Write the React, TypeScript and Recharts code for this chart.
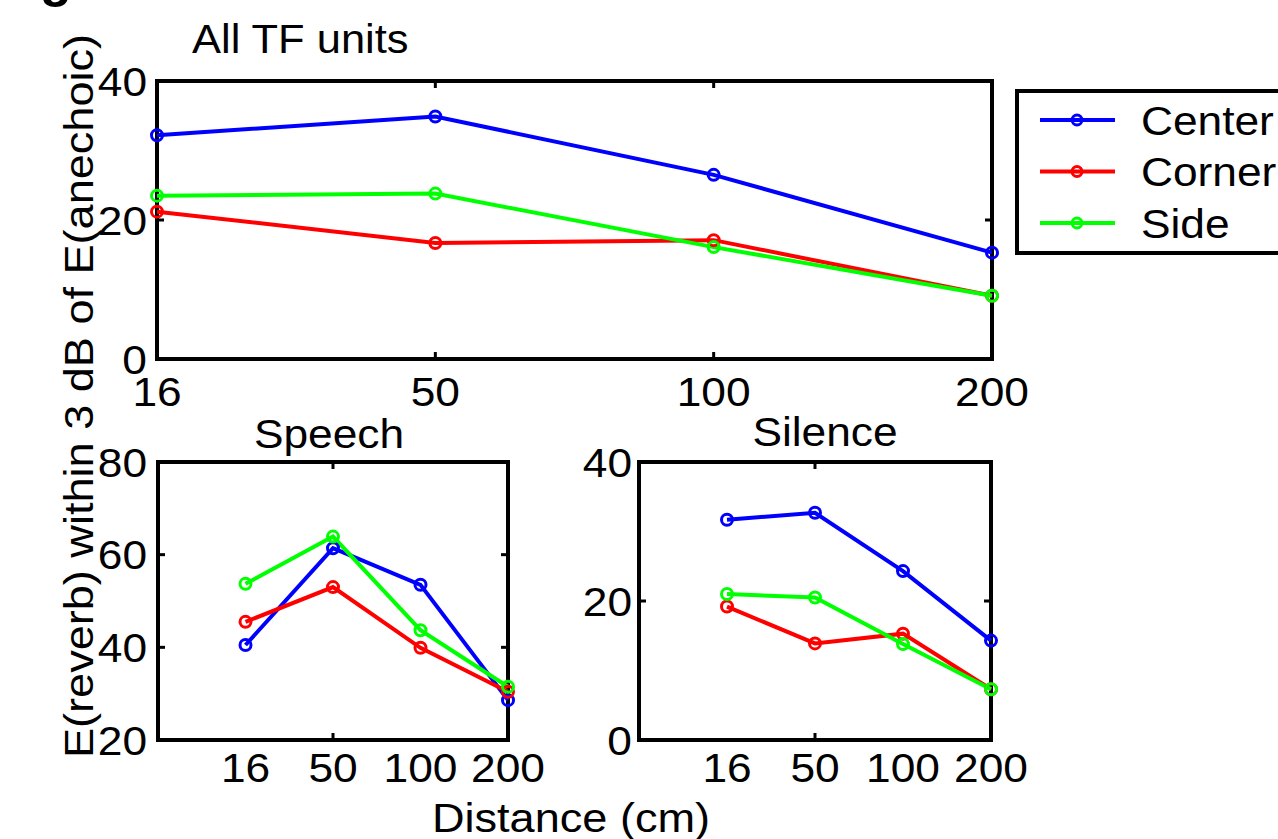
import { LineChart, Line, XAxis, YAxis, ReferenceArea, Legend } from 'recharts'

// distance categories (cm), placed at positions 1..4 on a numeric axis
const distances = ['16', '50', '100', '200']
const seriesNames = ['Center', 'Corner', 'Side']
const seriesColors = ['#0000ff', '#ff0000', '#00ff00']

// All TF units
const allCenter = [32.2, 34.9, 26.5, 15.3]
const allCorner = [21.2, 16.7, 17.1, 9.1]
const allSide = [23.5, 23.8, 16.1, 9.1]

// Speech
const speechCenter = [40.5, 61.4, 53.5, 28.6]
const speechCorner = [45.5, 53.0, 39.9, 30.4]
const speechSide = [53.7, 63.9, 43.7, 31.5]

// Silence
const silenceCenter = [31.7, 32.7, 24.3, 14.3]
const silenceCorner = [19.2, 13.9, 15.3, 7.3]
const silenceSide = [21.0, 20.5, 13.8, 7.3]

const allTicks = [0, 20, 40]
const speechTicks = [20, 40, 60, 80]
const silenceTicks = [0, 20, 40]

const FONT = '"Liberation Sans", Arial, Helvetica, sans-serif'
const FS = 41
const STRETCH = 1.08 // the reference glyphs are a bit wider than Liberation Sans

interface Row {
  pos: number
  center: number
  corner: number
  side: number
}

function buildRows(center: number[], corner: number[], side: number[]): Row[] {
  return distances.map((_, i) => ({
    pos: i + 1,
    center: center[i],
    corner: corner[i],
    side: side[i],
  }))
}

const keys = ['center', 'corner', 'side']

interface TProps {
  x: number
  y: number
  children: React.ReactNode
  anchor?: 'start' | 'middle' | 'end'
  size?: number
  sx?: number
  dy?: string
  rotate?: number
  weight?: string
}

// text with a slight horizontal stretch
function T({ x, y, children, anchor = 'start', size = FS, sx = STRETCH, dy, rotate = 0, weight }: TProps) {
  return (
    <text
      transform={`translate(${x} ${y}) rotate(${rotate}) scale(${sx} 1)`}
      textAnchor={anchor}
      dy={dy}
      fontSize={size}
      fontFamily={FONT}
      fontWeight={weight}
      fill="#000"
    >
      {children}
    </text>
  )
}

// bottom tick: label below, small inward marks on bottom and top edge
function makeXTick(plotH: number, gap: number, marks: number[]) {
  return (props: any) => {
    const { x, y, payload } = props
    const axisY = y - gap
    const v = payload.value as number
    return (
      <g>
        {marks.includes(v) && (
          <>
            <line x1={x} x2={x} y1={axisY} y2={axisY - 7} stroke="#000" strokeWidth={3} />
            <line x1={x} x2={x} y1={axisY - plotH} y2={axisY - plotH + 7} stroke="#000" strokeWidth={3} />
          </>
        )}
        <T x={x} y={y} dy="0.71em" anchor="middle">
          {distances[v - 1]}
        </T>
      </g>
    )
  }
}

function makeYTick(plotW: number, gap: number, marks: number[]) {
  return (props: any) => {
    const { x, y, payload } = props
    const axisX = x + gap
    const v = payload.value as number
    return (
      <g>
        {marks.includes(v) && (
          <>
            <line x1={axisX} x2={axisX + 7} y1={y} y2={y} stroke="#000" strokeWidth={3} />
            <line x1={axisX + plotW} x2={axisX + plotW - 7} y1={y} y2={y} stroke="#000" strokeWidth={3} />
          </>
        )}
        <T x={x} y={y} dy="0.355em" anchor="end">
          {v}
        </T>
      </g>
    )
  }
}

function LegendBox({ payload }: any) {
  const items = (payload ?? []) as Array<{ value: string; color: string }>
  return (
    <svg width={270} height={166} style={{ display: 'block', overflow: 'visible' }}>
      <rect x={2} y={2} width={300} height={162} fill="#fff" stroke="#000" strokeWidth={4} />
      {items.map((it, i) => {
        const cy = 31 + i * 51.5
        return (
          <g key={it.value}>
            <line x1={25} x2={100} y1={cy} y2={cy} stroke={it.color} strokeWidth={4} />
            <circle cx={62} cy={cy} r={5} fill="none" stroke={it.color} strokeWidth={3} />
            <T x={126} y={cy} dy="0.355em">
              {it.value}
            </T>
          </g>
        )
      })}
    </svg>
  )
}

interface PanelProps {
  left: number
  top: number
  width: number
  height: number
  margin: { top: number; right: number; left: number; bottom: number }
  yWidth: number
  xHeight: number
  plotW: number
  plotH: number
  data: Row[]
  xDomain: [number, number]
  yDomain: [number, number]
  yTicks: number[]
  xGap: number
  yGap: number
  xMarks: number[]
  yMarks: number[]
  legend?: boolean
}

function Panel(p: PanelProps) {
  return (
    <div style={{ position: 'absolute', left: p.left, top: p.top }}>
      <LineChart width={p.width} height={p.height} data={p.data} margin={p.margin}>
        <XAxis
          dataKey="pos"
          type="number"
          domain={p.xDomain}
          ticks={[1, 2, 3, 4]}
          height={p.xHeight}
          axisLine={false}
          tickLine={false}
          tickSize={0}
          tickMargin={p.xGap}
          interval={0}
          tick={makeXTick(p.plotH, p.xGap, p.xMarks)}
        />
        <YAxis
          type="number"
          domain={p.yDomain}
          ticks={p.yTicks}
          width={p.yWidth}
          axisLine={false}
          tickLine={false}
          tickSize={0}
          tickMargin={p.yGap}
          interval={0}
          tick={makeYTick(p.plotW, p.yGap, p.yMarks)}
        />
        {keys.map((k, i) => (
          <Line
            key={k}
            type="linear"
            dataKey={k}
            name={seriesNames[i]}
            stroke={seriesColors[i]}
            strokeWidth={4}
            dot={{ r: 5.5, fill: 'none', stroke: seriesColors[i], strokeWidth: 3 }}
            isAnimationActive={false}
          />
        ))}
        <ReferenceArea
          x1={p.xDomain[0]}
          x2={p.xDomain[1]}
          y1={p.yDomain[0]}
          y2={p.yDomain[1]}
          fill="none"
          fillOpacity={0}
          stroke="#000"
          strokeWidth={4}
          ifOverflow="visible"
        />
        {p.legend && (
          <Legend
            layout="vertical"
            align="center"
            verticalAlign="middle"
            content={<LegendBox />}
            wrapperStyle={{ left: 1015, top: 89, width: 270, height: 166 }}
          />
        )}
      </LineChart>
    </div>
  )
}

export default function App() {
  const allData = buildRows(allCenter, allCorner, allSide)
  const speechData = buildRows(speechCenter, speechCorner, speechSide)
  const silenceData = buildRows(silenceCenter, silenceCorner, silenceSide)

  return (
    <div
      style={{
        position: 'absolute',
        left: 0,
        top: 0,
        width: 1278,
        height: 839,
        overflow: 'hidden',
        background: '#fff',
        fontFamily: FONT,
      }}
    >
      <Panel
        left={0}
        top={0}
        width={1278}
        height={420}
        margin={{ top: 81, right: 286, left: 0, bottom: 0 }}
        yWidth={157}
        xHeight={61}
        plotW={835}
        plotH={278}
        data={allData}
        xDomain={[1, 4]}
        yDomain={[0, 40]}
        yTicks={allTicks}
        xGap={18}
        yGap={10}
        xMarks={[1, 2, 3, 4]}
        yMarks={[20]}
        legend
      />
      <Panel
        left={0}
        top={420}
        width={560}
        height={419}
        margin={{ top: 42, right: 52, left: 0, bottom: 0 }}
        yWidth={158}
        xHeight={99}
        plotW={350}
        plotH={278}
        data={speechData}
        xDomain={[0, 4]}
        yDomain={[20, 80]}
        yTicks={speechTicks}
        xGap={13}
        yGap={11}
        xMarks={[2]}
        yMarks={[40, 60]}
      />
      <Panel
        left={520}
        top={420}
        width={560}
        height={419}
        margin={{ top: 42, right: 89, left: 0, bottom: 0 }}
        yWidth={119}
        xHeight={99}
        plotW={352}
        plotH={278}
        data={silenceData}
        xDomain={[0, 4]}
        yDomain={[0, 40]}
        yTicks={silenceTicks}
        xGap={13}
        yGap={7}
        xMarks={[2]}
        yMarks={[20]}
      />
      <svg
        width={1278}
        height={839}
        style={{ position: 'absolute', left: 0, top: 0, pointerEvents: 'none' }}
      >
        <T x={40} y={-4} size={52} weight="bold" sx={1}>g</T>
        <T x={192} y={53} size={41} sx={1.06}>All TF units</T>
        <T x={329} y={448} size={41} anchor="middle">Speech</T>
        <T x={825} y={446} size={41} anchor="middle">Silence</T>
        <T x={571} y={832} anchor="middle" sx={1.1}>Distance (cm)</T>
        <T x={93} y={396} anchor="middle" rotate={-90} sx={1.1}>
          E(reverb) within 3 dB of E(anechoic)
        </T>
      </svg>
    </div>
  )
}
